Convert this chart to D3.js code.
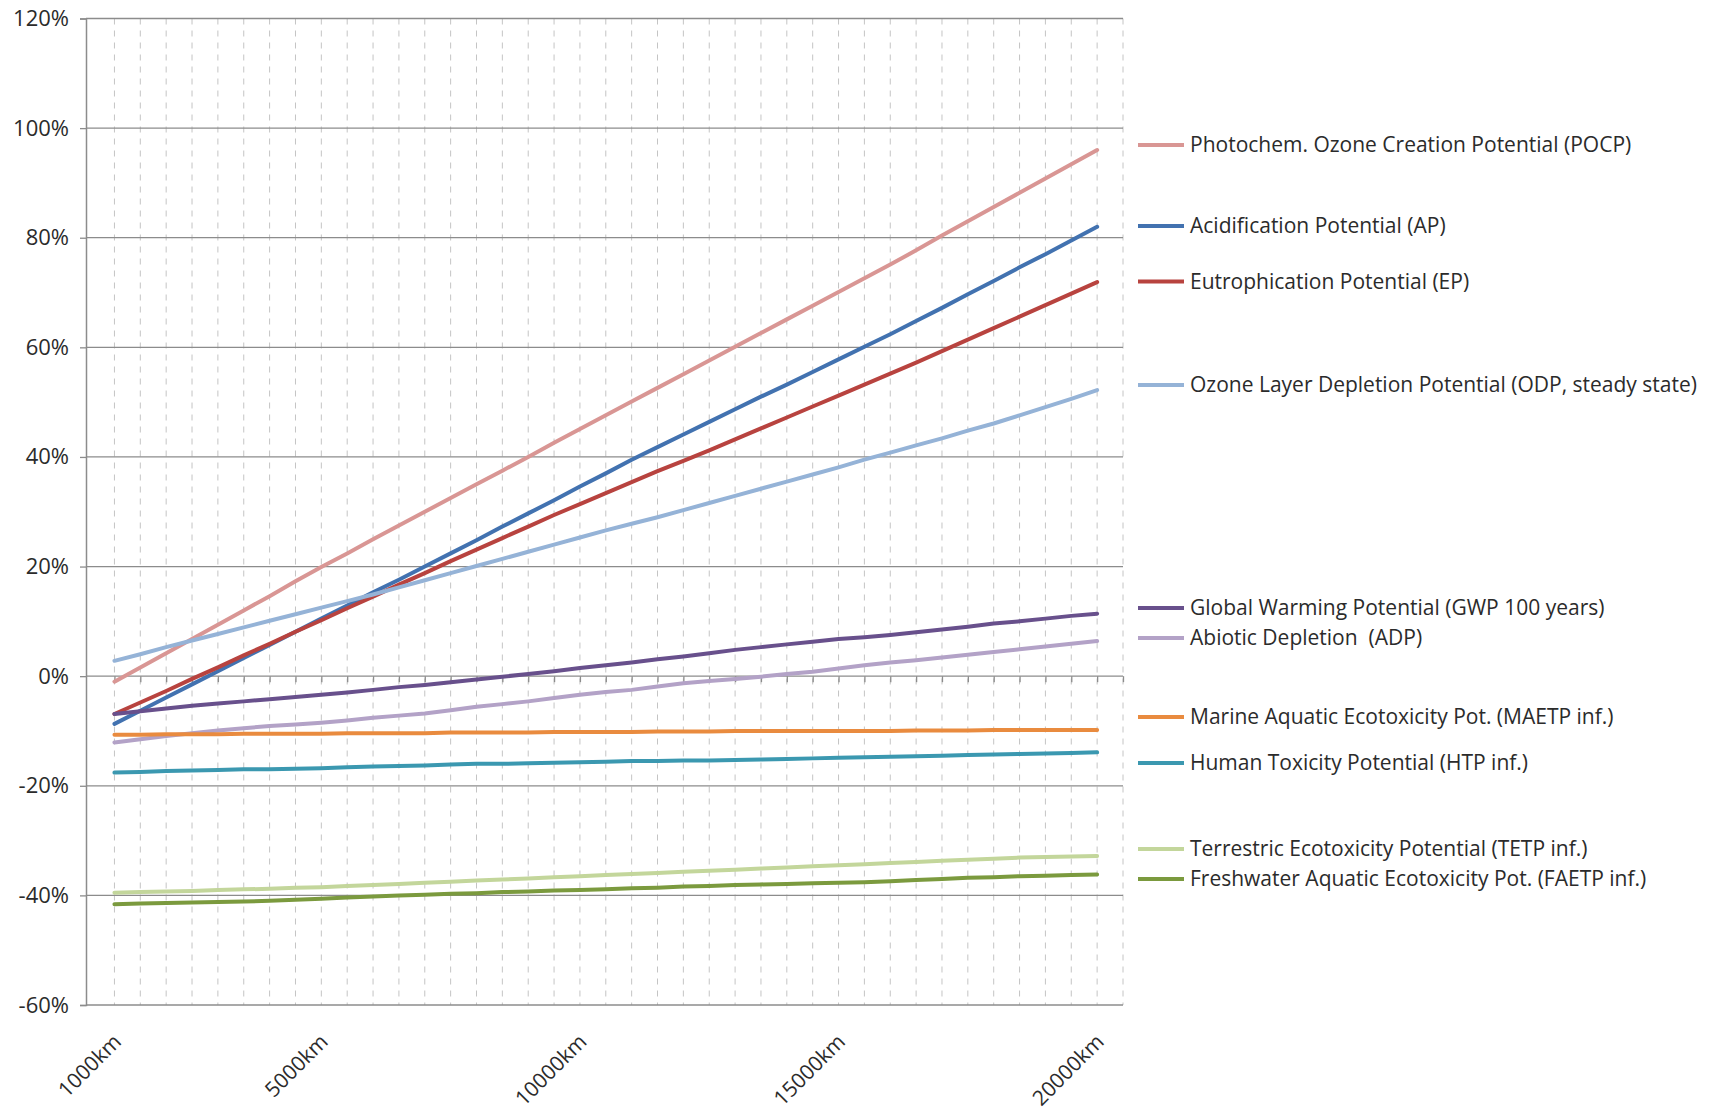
<!DOCTYPE html>
<html>
<head>
<meta charset="utf-8">
<script src="https://cdn.jsdelivr.net/npm/d3@7/dist/d3.min.js"></script>
<style>
  html, body { margin: 0; padding: 0; background: #fff; }
  svg { display: block; font-family: "Open Sans", "Noto Sans", sans-serif; }
</style>
</head>
<body>
<svg id="chart" width="1711" height="1112"></svg>
<script>
// Transport distance categories (km)
const distances = [1000, 1500, 2000, 2500, 3000, 3500, 4000, 4500, 5000, 5500,
  6000, 6500, 7000, 7500, 8000, 8500, 9000, 9500, 10000, 10500,
  11000, 11500, 12000, 12500, 13000, 13500, 14000, 14500, 15000, 15500,
  16000, 16500, 17000, 17500, 18000, 18500, 19000, 19500, 20000];

// Labelled distances on the horizontal axis
const xTickValues = [1000, 5000, 10000, 15000, 20000];
// Percentage ticks on the vertical axis
const yTickValues = [-60, -40, -20, 0, 20, 40, 60, 80, 100, 120];

// Change relative to reference (%), one value per distance
const pocp = [-1.0, 1.6, 4.2, 6.8, 9.4, 12.0, 14.6, 17.3, 19.9, 22.4,
  25.0, 27.5, 30.0, 32.5, 35.0, 37.5, 40.0, 42.6, 45.1, 47.6,
  50.1, 52.6, 55.1, 57.6, 60.1, 62.6, 65.1, 67.6, 70.1, 72.6,
  75.1, 77.7, 80.4, 83.0, 85.6, 88.2, 90.8, 93.4, 96.0];
const ap = [-8.7, -6.3, -3.9, -1.5, 0.9, 3.3, 5.7, 8.1, 10.5, 12.9,
  15.3, 17.6, 20.0, 22.4, 24.8, 27.3, 29.7, 32.1, 34.6, 37.0,
  39.5, 41.8, 44.1, 46.4, 48.7, 51.0, 53.2, 55.5, 57.8, 60.1,
  62.4, 64.8, 67.2, 69.7, 72.1, 74.6, 77.0, 79.5, 82.0];
const ep = [-6.9, -4.8, -2.7, -0.5, 1.6, 3.8, 5.9, 8.1, 10.2, 12.4,
  14.5, 16.7, 18.8, 21.0, 23.1, 25.2, 27.3, 29.4, 31.4, 33.4,
  35.4, 37.4, 39.3, 41.2, 43.2, 45.2, 47.2, 49.2, 51.2, 53.2,
  55.2, 57.2, 59.3, 61.4, 63.5, 65.6, 67.7, 69.8, 71.9];
const odp = [2.8, 4.0, 5.3, 6.5, 7.7, 8.9, 10.1, 11.3, 12.5, 13.7,
  14.9, 16.2, 17.5, 18.8, 20.1, 21.4, 22.7, 24.0, 25.3, 26.6,
  27.8, 29.0, 30.3, 31.6, 32.9, 34.2, 35.5, 36.8, 38.1, 39.5,
  40.8, 42.1, 43.4, 44.8, 46.1, 47.6, 49.1, 50.6, 52.2];
const gwp = [-6.9, -6.4, -5.9, -5.4, -5.0, -4.6, -4.2, -3.8, -3.4, -3.0,
  -2.5, -2.0, -1.6, -1.1, -0.6, -0.1, 0.4, 0.9, 1.5, 2.0,
  2.5, 3.1, 3.6, 4.2, 4.8, 5.3, 5.8, 6.3, 6.8, 7.1,
  7.5, 8.0, 8.5, 9.0, 9.6, 10.0, 10.5, 11.0, 11.4];
const adp = [-12.1, -11.5, -10.9, -10.4, -9.9, -9.5, -9.1, -8.8, -8.5, -8.1,
  -7.6, -7.2, -6.8, -6.2, -5.6, -5.1, -4.6, -4.0, -3.4, -2.9,
  -2.5, -1.9, -1.3, -0.9, -0.5, -0.1, 0.4, 0.8, 1.4, 2.0,
  2.5, 2.9, 3.4, 3.9, 4.4, 4.9, 5.4, 5.9, 6.4];
const maetp = [-10.7, -10.7, -10.6, -10.6, -10.6, -10.5, -10.5, -10.5, -10.5, -10.4,
  -10.4, -10.4, -10.4, -10.3, -10.3, -10.3, -10.3, -10.2, -10.2, -10.2,
  -10.2, -10.1, -10.1, -10.1, -10.0, -10.0, -10.0, -10.0, -10.0, -10.0,
  -10.0, -9.9, -9.9, -9.9, -9.8, -9.8, -9.8, -9.8, -9.8];
const htp = [-17.6, -17.5, -17.3, -17.2, -17.1, -17.0, -17.0, -16.9, -16.8, -16.6,
  -16.5, -16.4, -16.3, -16.1, -16.0, -16.0, -15.9, -15.8, -15.7, -15.6,
  -15.5, -15.5, -15.4, -15.4, -15.3, -15.2, -15.1, -15.0, -14.9, -14.8,
  -14.7, -14.6, -14.5, -14.4, -14.3, -14.2, -14.1, -14.0, -13.9];
const tetp = [-39.5, -39.4, -39.3, -39.2, -39.0, -38.9, -38.8, -38.6, -38.5, -38.3,
  -38.1, -37.9, -37.7, -37.5, -37.3, -37.1, -36.9, -36.7, -36.5, -36.3,
  -36.1, -35.9, -35.7, -35.5, -35.3, -35.1, -34.9, -34.7, -34.5, -34.3,
  -34.1, -33.9, -33.7, -33.5, -33.3, -33.1, -33.0, -32.9, -32.8];
const faetp = [-41.6, -41.5, -41.4, -41.3, -41.2, -41.1, -41.0, -40.8, -40.6, -40.4,
  -40.2, -40.0, -39.9, -39.7, -39.6, -39.4, -39.3, -39.1, -39.0, -38.9,
  -38.7, -38.6, -38.4, -38.3, -38.1, -38.0, -37.9, -37.8, -37.7, -37.6,
  -37.4, -37.2, -37.0, -36.8, -36.7, -36.5, -36.4, -36.3, -36.2];

const seriesNames = [
  "Photochem. Ozone Creation Potential (POCP)",
  "Acidification Potential (AP)",
  "Eutrophication Potential (EP)",
  "Ozone Layer Depletion Potential (ODP, steady state)",
  "Global Warming Potential (GWP 100 years)",
  "Abiotic Depletion  (ADP)",
  "Marine Aquatic Ecotoxicity Pot. (MAETP inf.)",
  "Human Toxicity Potential (HTP inf.)",
  "Terrestric Ecotoxicity Potential (TETP inf.)",
  "Freshwater Aquatic Ecotoxicity Pot. (FAETP inf.)"
];
const seriesValues = [pocp, ap, ep, odp, gwp, adp, maetp, htp, tetp, faetp];
const seriesColors = ["#D99694", "#4272B0", "#B8433F", "#95B3D7", "#68508C",
  "#B3A2C7", "#E98B3F", "#3B98B0", "#C3D69B", "#7B9A3E"];

// ---- layout ----
const plot = { left: 86, right: 1123, top: 18.5, bottom: 1005 };
// vertical centre of each legend row (px)
const legendRowY = [145, 226, 281.5, 385, 608, 638, 717, 763, 849, 879];
const legendX = { lineStart: 1138, lineEnd: 1184, text: 1190 };

const svg = d3.select("#chart");

// category positions: left axis sits slightly more than one step before the first distance
const x = d3.scaleLinear().domain([450, 20500]).range([plot.left, plot.right]);
const y = d3.scaleLinear().domain([-60, 120]).range([plot.bottom, plot.top]);

// vertical dashed gridlines, one per distance step plus the right border
const gridX = distances.concat([20500]);
svg.append("g")
  .selectAll("line")
  .data(gridX)
  .join("line")
  .attr("x1", d => x(d)).attr("x2", d => x(d))
  .attr("y1", plot.top).attr("y2", plot.bottom)
  .attr("stroke", "#c4c4c4")
  .attr("stroke-width", 1)
  .attr("stroke-dasharray", "6,6");

// horizontal gridlines
svg.append("g")
  .selectAll("line")
  .data(yTickValues)
  .join("line")
  .attr("x1", plot.left).attr("x2", plot.right)
  .attr("y1", d => y(d)).attr("y2", d => y(d))
  .attr("stroke", "#8c8c8c")
  .attr("stroke-width", 1.3);

// vertical axis with outward ticks
const yAxis = d3.axisLeft(y)
  .tickValues(yTickValues)
  .tickSize(6)
  .tickPadding(11)
  .tickFormat(d => d + "%");
const yAxisG = svg.append("g")
  .attr("transform", `translate(${plot.left},0)`)
  .call(yAxis);
yAxisG.select(".domain").attr("stroke", "#8c8c8c").attr("stroke-width", 1.5);
yAxisG.selectAll(".tick line").attr("stroke", "#8c8c8c").attr("stroke-width", 1.3);
yAxisG.selectAll(".tick text")
  .attr("font-size", 22)
  .attr("fill", "#2b2b2b")
  .attr("font-family", "'Open Sans', sans-serif");

// category axis crossing at 0% with tick marks below the line
const xAxis = d3.axisBottom(x)
  .tickValues(gridX)
  .tickSize(6)
  .tickFormat("");
const xAxisG = svg.append("g")
  .attr("transform", `translate(0,${y(0)})`)
  .call(xAxis);
xAxisG.select(".domain").remove();
xAxisG.selectAll(".tick line").attr("stroke", "#8c8c8c").attr("stroke-width", 1.3);

// rotated distance labels under the plot
svg.append("g")
  .selectAll("text")
  .data(xTickValues)
  .join("text")
  .attr("transform", d => `translate(${x(d) + 8},${plot.bottom + 38}) rotate(-45)`)
  .attr("text-anchor", "end")
  .attr("font-size", 21)
  .attr("fill", "#2b2b2b")
  .text(d => d + "km");

// series lines
const line = d3.line()
  .x((d, i) => x(distances[i]))
  .y(d => y(d));

svg.append("g")
  .selectAll("path")
  .data(seriesValues)
  .join("path")
  .attr("d", d => line(d))
  .attr("fill", "none")
  .attr("stroke", (d, i) => seriesColors[i])
  .attr("stroke-width", 4)
  .attr("stroke-linejoin", "round")
  .attr("stroke-linecap", "round");

// legend
const legend = svg.append("g")
  .selectAll("g")
  .data(seriesNames)
  .join("g")
  .attr("transform", (d, i) => `translate(0,${legendRowY[i]})`);

legend.append("line")
  .attr("x1", legendX.lineStart).attr("x2", legendX.lineEnd)
  .attr("y1", 0).attr("y2", 0)
  .attr("stroke", (d, i) => seriesColors[i])
  .attr("stroke-width", 4);

legend.append("text")
  .attr("x", legendX.text)
  .attr("y", 0)
  .attr("dy", "0.35em")
  .attr("font-size", 21)
  .attr("fill", "#2b2b2b")
  .attr("xml:space", "preserve")
  .text(d => d);
</script>
</body>
</html>
